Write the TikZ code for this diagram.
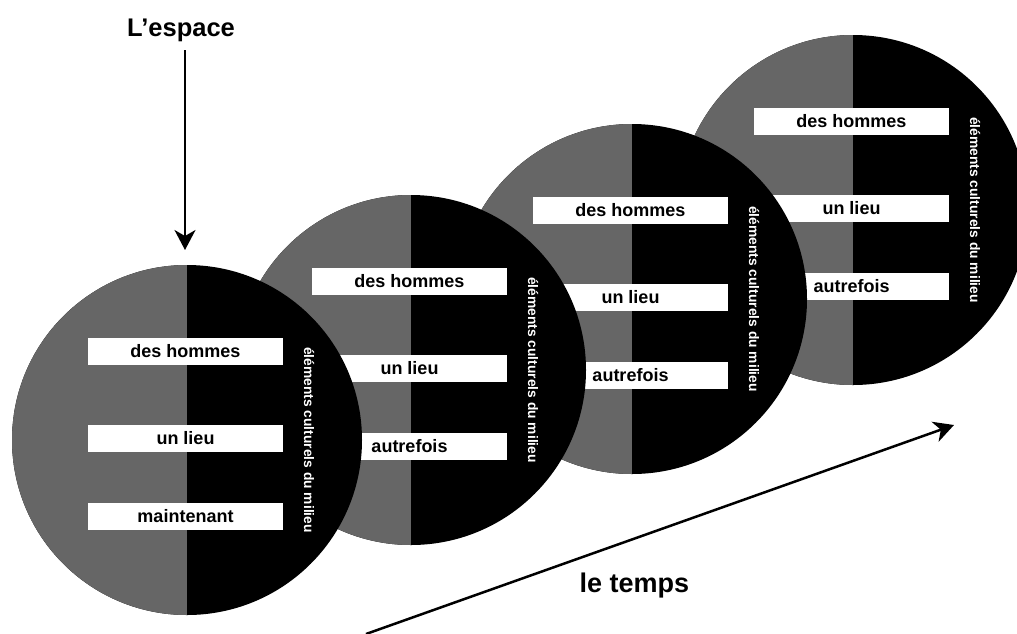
\documentclass[tikz,border=0pt]{standalone}
\usepackage{fontspec}
\setmainfont{Liberation Sans}
\usetikzlibrary{arrows.meta}
\definecolor{halfgray}{HTML}{666666}
\tikzset{
  disc/.style={circle, minimum size=350pt, inner sep=0pt, fill=black,
    path picture={\fill[halfgray] (path picture bounding box.north west) rectangle (path picture bounding box.south);}},
  labelbox/.style={fill=white, minimum width=195pt, minimum height=27pt, inner sep=0pt,
    font=\fontsize{18}{20}\selectfont\bfseries, text=black},
  vtext/.style={rotate=-90, text=white, inner sep=0pt, font=\fontsize{13.8}{15}\selectfont\bfseries},
  titletext/.style={inner sep=0pt, font=\fontsize{25.5}{28}\selectfont\bfseries},
  arr/.style={line width=2pt, -{Stealth[length=20pt, width=21pt, inset=6pt]}}
}
\begin{document}
\begin{tikzpicture}[x=1pt, y=-1pt]
\useasboundingbox (0,0) rectangle (1017,633);
\clip (0,0) rectangle (1017,633);
\foreach \n/\cx/\cy/\third in {4/853/210/autrefois, 3/632/299/autrefois, 2/411/370/autrefois, 1/187/440/maintenant}{
  \node[disc] (c\n) at (\cx,\cy) {};
  \node[labelbox] (c\n a) at ([shift={(-1.5,-88.5)}]c\n.center) {des hommes};
  \node[labelbox] (c\n b) at ([shift={(-1.5,-1.5)}]c\n.center) {un lieu};
  \node[labelbox] (c\n c) at ([shift={(-1.5,76.5)}]c\n.center) {\third};
  \node[vtext] (c\n v) at ([shift={(122,0)}]c\n.center) {éléments culturels du milieu};
}
\node[titletext, anchor=base] (espace) at (181,36) {L’espace};
\coordinate (espaceStart) at (185,50);
\coordinate (espaceEnd) at (185,250);
\draw[arr] (espaceStart) -- (espaceEnd);
\node[titletext, anchor=base, font=\fontsize{27}{30}\selectfont\bfseries] (temps) at (634.5,592) {le temps};
\coordinate (tempsStart) at (366,634);
\coordinate (tempsEnd) at (954,425);
\draw[arr, line width=2.5pt] (tempsStart) -- (tempsEnd);
\end{tikzpicture}
\end{document}
